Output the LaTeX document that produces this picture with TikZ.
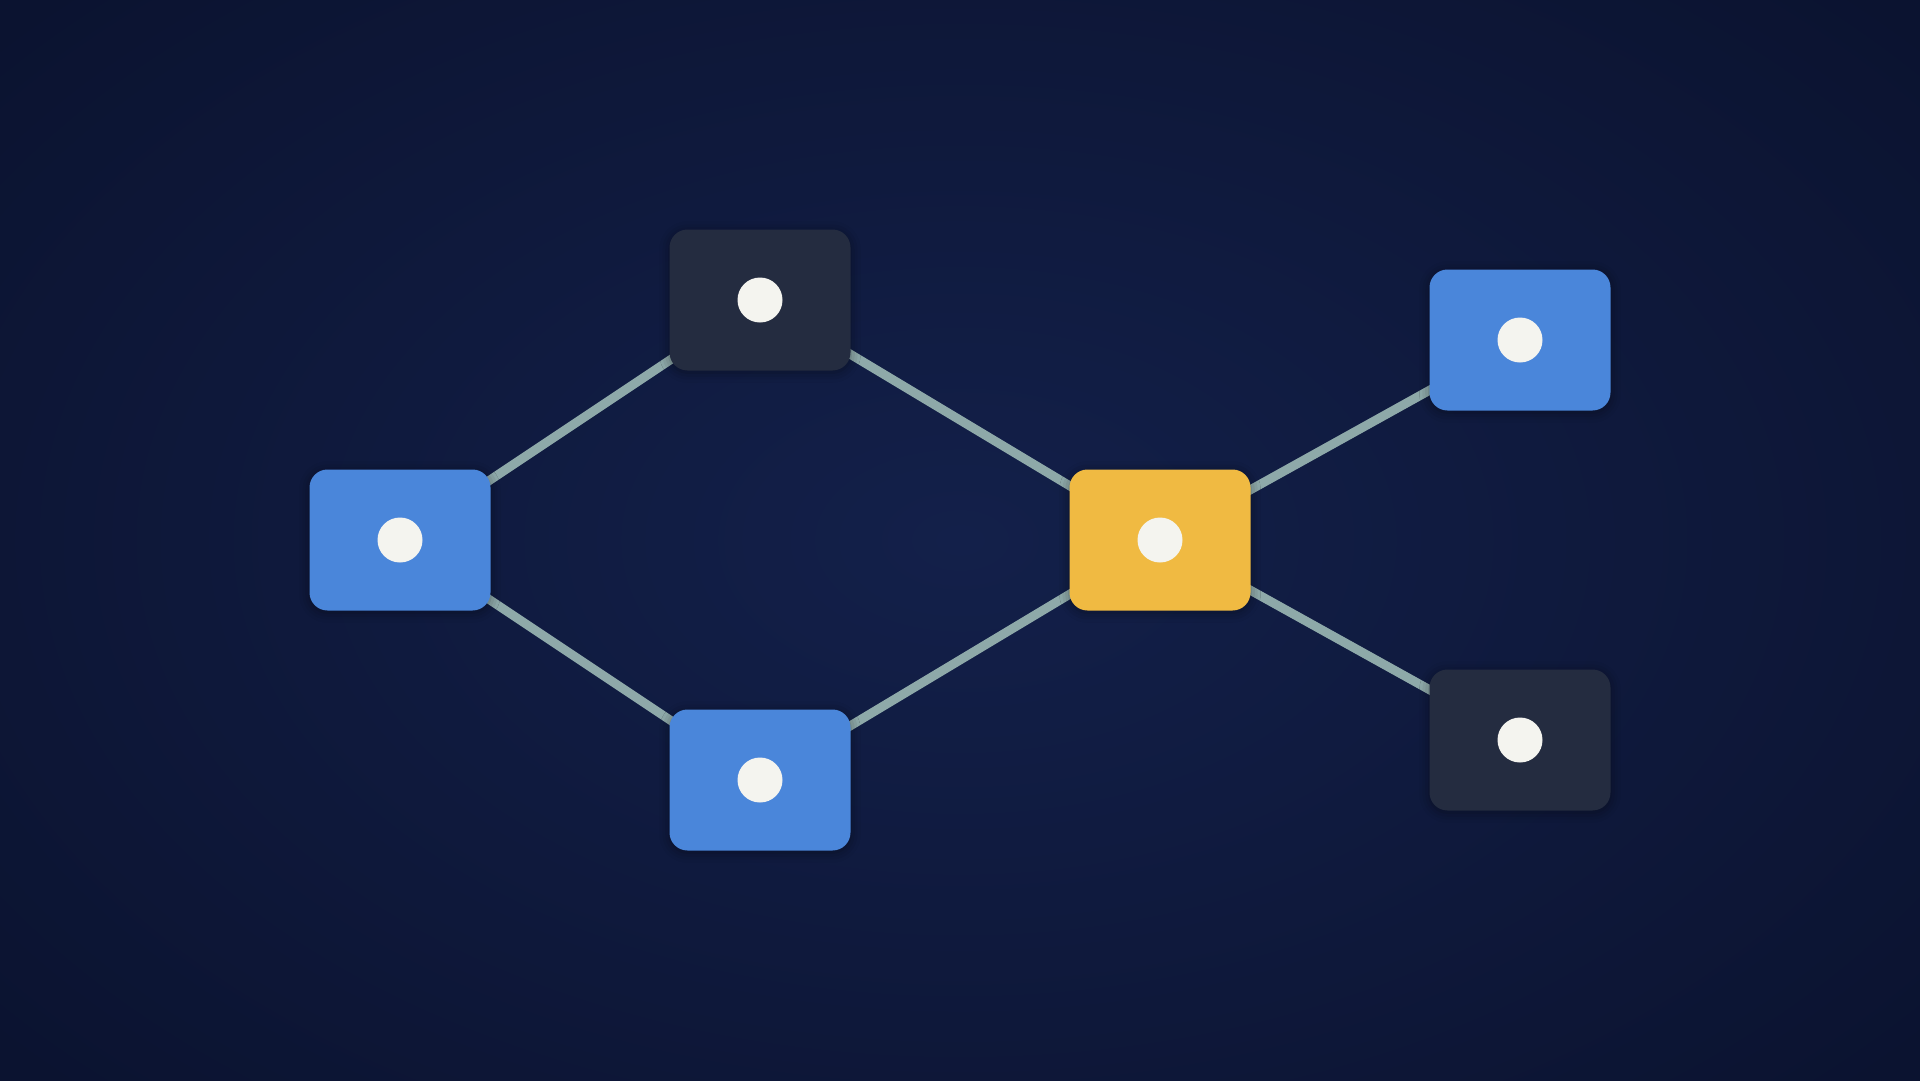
\documentclass[tikz,border=0pt]{standalone}
\usetikzlibrary{shadows.blur}
\definecolor{bgin}{HTML}{13204A}
\definecolor{bgout}{HTML}{0B1330}
\definecolor{nblue}{HTML}{4A86DA}
\definecolor{nyellow}{HTML}{F0BA42}
\definecolor{ndark}{HTML}{242C40}
\definecolor{edgec}{HTML}{8EA9A9}
\definecolor{dotc}{HTML}{F4F4EF}
\tikzset{
  box/.style={draw=none, rounded corners=18pt, minimum width=181pt, minimum height=141pt, inner sep=0pt,
    blur shadow={shadow xshift=0pt, shadow yshift=-2pt, shadow blur radius=10pt, shadow opacity=40}},
  bluebox/.style={box, fill=nblue},
  yellowbox/.style={box, fill=nyellow},
  darkbox/.style={box, fill=ndark},
  dotfill/.style={fill=dotc},
  link/.style={draw=edgec, line width=9pt},
}
\begin{document}
\begin{tikzpicture}[x=1pt,y=-1pt]
\useasboundingbox (0,0) rectangle (1920,1080);
\shade[inner color=bgin, outer color=bgout] (-300,-250) rectangle (2220,1330);
\clip (0,0) rectangle (1920,1080);
% node centres
\coordinate (pa) at (400,540);
\coordinate (pb) at (760,300);
\coordinate (pc) at (760,780);
\coordinate (pd) at (1160,540);
\coordinate (pe) at (1520,340);
\coordinate (pf) at (1520,740);
% connectors
\draw[link] (pa) -- (pb);
\draw[link] (pa) -- (pc);
\draw[link] (pb) -- (pd);
\draw[link] (pc) -- (pd);
\draw[link] (pd) -- (pe);
\draw[link] (pd) -- (pf);
% nodes
\node[bluebox] (a) at (pa) {};
\node[darkbox] (b) at (pb) {};
\node[bluebox] (c) at (pc) {};
\node[yellowbox] (d) at (pd) {};
\node[bluebox] (e) at (pe) {};
\node[darkbox] (f) at (pf) {};
% white dots
\foreach \n in {a,b,c,d,e,f}
  \fill[dotfill] (\n.center) circle[radius=22.5pt];
\end{tikzpicture}
\end{document}
